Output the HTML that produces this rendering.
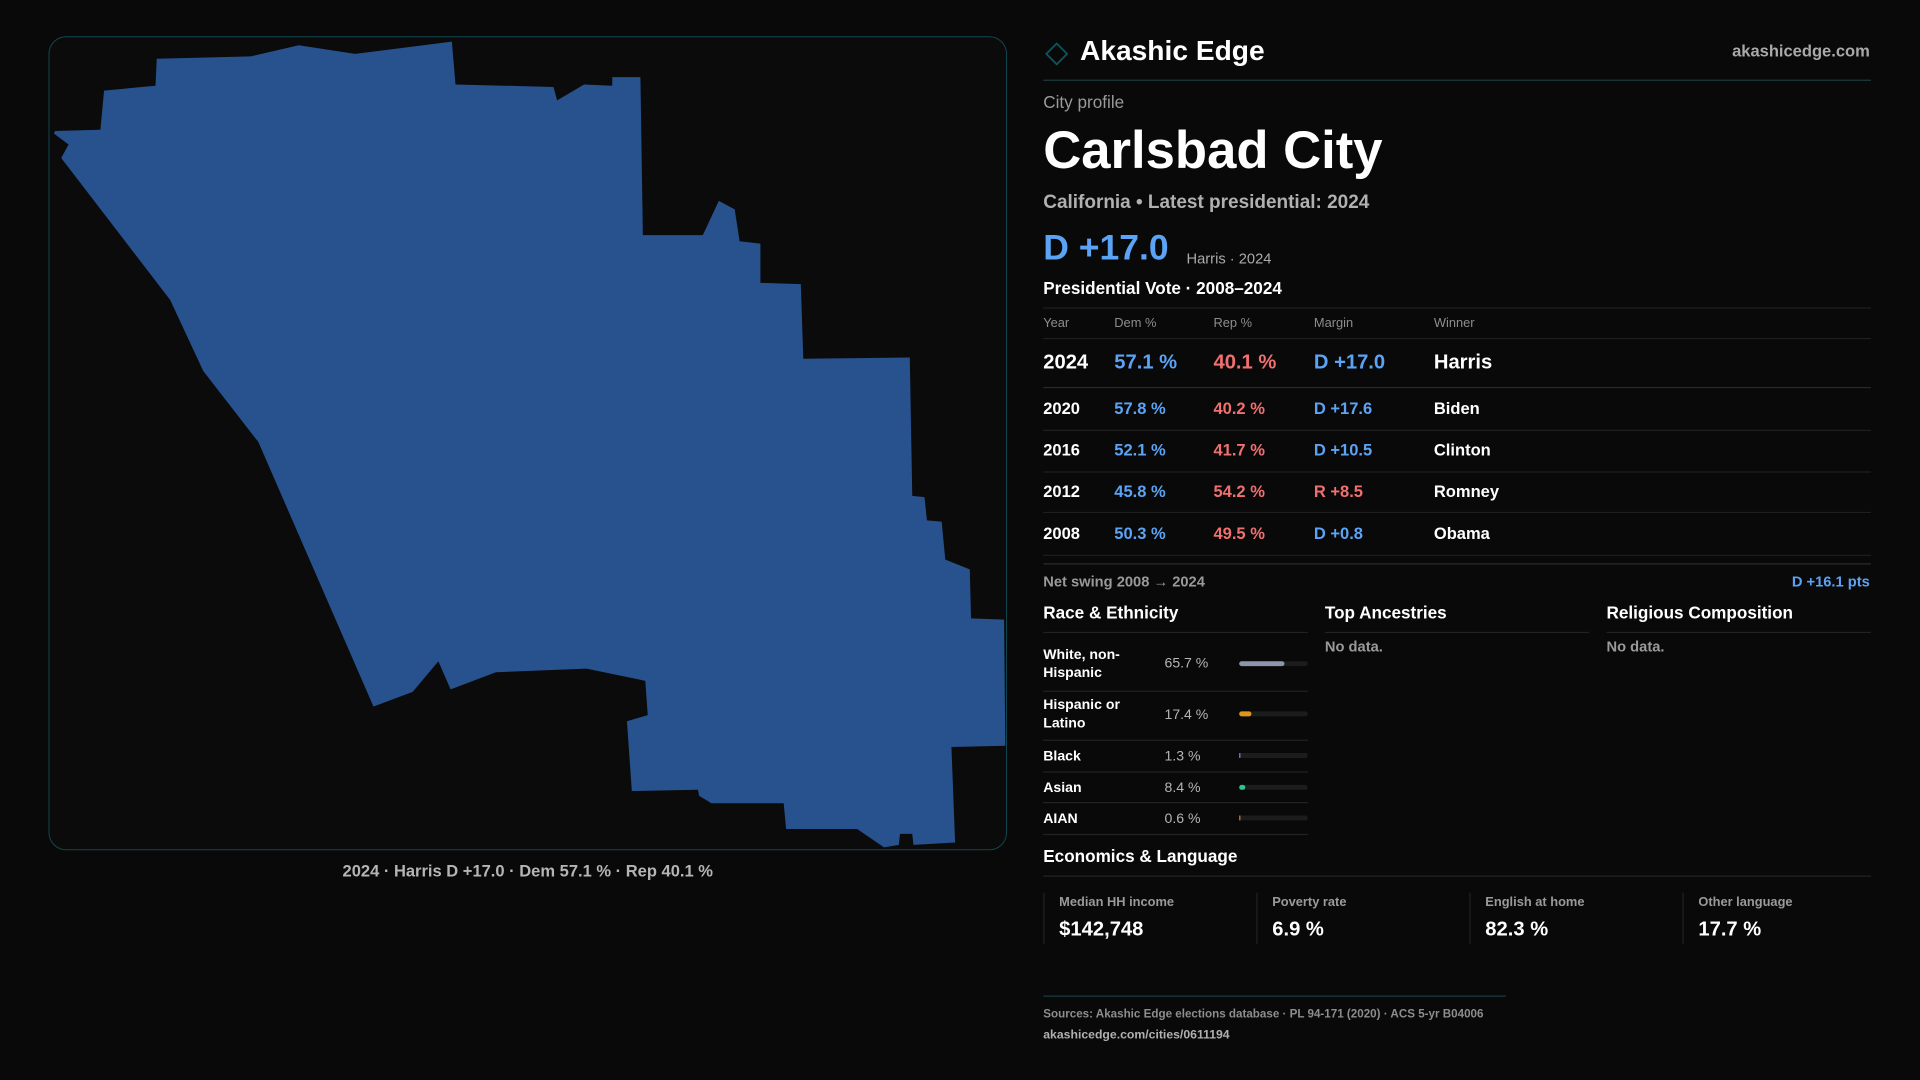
<!DOCTYPE html>
<html><head><meta charset="utf-8"><style>
html,body{margin:0;padding:0;background:#0a0909;}
svg{display:block;font-family:"Liberation Sans",sans-serif;}
</style></head><body>
<svg width="1920" height="1080" viewBox="0 0 1568 882" xmlns="http://www.w3.org/2000/svg">
<rect width="1568" height="882" fill="#0a0909"/>
<rect x="40" y="30" width="782" height="664" rx="14" fill="#0b0b0c" stroke="#11474f" stroke-width="0.8"/>
<polygon fill="#28528e" points="45,107 82,106 85,74 127,70 128,48 205,46 244,37 290,44 369,34 372,69 452,71 455,82 477,69 500,70 500,63 523,63 525,192 574,192 587,164 600,171 604,197 621,199 621,231 654,232 656,293 743,292 745,405 755,406 757,425 769,426 772,457 792,465 793,505 820,506 821,609 777,610 780,688 746,690 745,681 735,681 734,690 722,692 700,677 642,677 640,656 581,656 571,650 570,645 516,646 512,589 529,584 527,556 479,546 405,549 368,563 358,540 337,565 305,577 211,361 166,303 139,245 50,129 56,118 44,109"/>
<text x="431" y="716" text-anchor="middle" fill="#b5b5b5" font-size="13.5" font-weight="bold">2024 · Harris D +17.0 · Dem 57.1 % · Rep 40.1 %</text>

<rect x="857" y="38" width="12" height="12" transform="rotate(45 863 44)" fill="none" stroke="#11525a" stroke-width="1.5"/>
<text x="882" y="49" fill="#fff" font-size="23" font-weight="bold">Akashic Edge</text>
<text x="1527" y="46" text-anchor="end" fill="#a9a9a9" font-size="13.5" font-weight="bold">akashicedge.com</text>
<line x1="852" y1="65.5" x2="1528" y2="65.5" stroke="#1e3a3e" stroke-width="1"/>
<text x="852" y="88" fill="#9a9a9a" font-size="14">City profile</text>
<text x="852" y="137" fill="#fff" font-size="43" font-weight="bold">Carlsbad City</text>
<text x="852" y="170" fill="#b0b0b0" font-size="15.5" font-weight="bold">California • Latest presidential: 2024</text>
<text x="852" y="212" fill="#5ba3f5" font-size="29" font-weight="bold">D +17.0</text>
<text x="969" y="215" fill="#aaa" font-size="12">Harris · 2024</text>
<text x="852" y="240" fill="#fff" font-size="14" font-weight="bold">Presidential Vote · 2008–2024</text>
<g stroke="#1f1f1f" stroke-width="1">
<line x1="852" y1="251.5" x2="1528" y2="251.5"/>
<line x1="852" y1="276.5" x2="1528" y2="276.5"/>
<line x1="852" y1="316.5" x2="1528" y2="316.5" stroke="#2a2a2a"/>
<line x1="852" y1="351.5" x2="1528" y2="351.5"/>
<line x1="852" y1="385.5" x2="1528" y2="385.5"/>
<line x1="852" y1="418.5" x2="1528" y2="418.5"/>
<line x1="852" y1="453.5" x2="1528" y2="453.5"/>
<line x1="852" y1="460.5" x2="1528" y2="460.5" stroke="#2a2a2a"/>
</g>
<g font-size="10.5" fill="#8d8d8d">
<text x="852" y="267">Year</text><text x="910" y="267">Dem %</text><text x="991" y="267">Rep %</text><text x="1073" y="267">Margin</text><text x="1171" y="267">Winner</text>
</g>
<g font-size="16.5" font-weight="bold">
<text x="852" y="301" fill="#fff">2024</text><text x="910" y="301" fill="#5ba3f5">57.1 %</text><text x="991" y="301" fill="#f07070">40.1 %</text><text x="1073" y="301" fill="#5ba3f5">D +17.0</text><text x="1171" y="301" fill="#fff">Harris</text>
</g>
<g font-size="13.5" font-weight="bold">
<text x="852" y="338" fill="#fff">2020</text><text x="910" y="338" fill="#5ba3f5">57.8 %</text><text x="991" y="338" fill="#f07070">40.2 %</text><text x="1073" y="338" fill="#5ba3f5">D +17.6</text><text x="1171" y="338" fill="#fff">Biden</text>
<text x="852" y="372" fill="#fff">2016</text><text x="910" y="372" fill="#5ba3f5">52.1 %</text><text x="991" y="372" fill="#f07070">41.7 %</text><text x="1073" y="372" fill="#5ba3f5">D +10.5</text><text x="1171" y="372" fill="#fff">Clinton</text>
<text x="852" y="406" fill="#fff">2012</text><text x="910" y="406" fill="#5ba3f5">45.8 %</text><text x="991" y="406" fill="#f07070">54.2 %</text><text x="1073" y="406" fill="#f07070">R +8.5</text><text x="1171" y="406" fill="#fff">Romney</text>
<text x="852" y="440" fill="#fff">2008</text><text x="910" y="440" fill="#5ba3f5">50.3 %</text><text x="991" y="440" fill="#f07070">49.5 %</text><text x="1073" y="440" fill="#5ba3f5">D +0.8</text><text x="1171" y="440" fill="#fff">Obama</text>
</g>
<text x="852" y="479" fill="#9a9a9a" font-size="12" font-weight="bold">Net swing 2008 → 2024</text>
<text x="1527" y="479" text-anchor="end" fill="#5ba3f5" font-size="12" font-weight="bold">D +16.1 pts</text>

<g font-size="14" fill="#fff" font-weight="bold">
<text x="852" y="505">Race &amp; Ethnicity</text><text x="1082" y="505">Top Ancestries</text><text x="1312" y="505">Religious Composition</text>
</g>
<g stroke="#222" stroke-width="1">
<line x1="852" y1="516.5" x2="1068" y2="516.5"/><line x1="1082" y1="516.5" x2="1298" y2="516.5"/><line x1="1312" y1="516.5" x2="1528" y2="516.5"/>
<line x1="852" y1="564.5" x2="1068" y2="564.5"/><line x1="852" y1="604.5" x2="1068" y2="604.5"/><line x1="852" y1="630.5" x2="1068" y2="630.5"/><line x1="852" y1="655.5" x2="1068" y2="655.5"/><line x1="852" y1="681.5" x2="1068" y2="681.5"/>
<line x1="852" y1="715.5" x2="1528" y2="715.5"/>
</g>
<text x="1082" y="532" fill="#9a9a9a" font-size="12" font-weight="bold">No data.</text>
<text x="1312" y="532" fill="#9a9a9a" font-size="12" font-weight="bold">No data.</text>
<g font-size="11.5" fill="#fff" font-weight="bold">
<text x="852" y="538">White, non-</text><text x="852" y="553">Hispanic</text>
<text x="852" y="579">Hispanic or</text><text x="852" y="594">Latino</text>
<text x="852" y="621">Black</text><text x="852" y="647">Asian</text><text x="852" y="672">AIAN</text>
</g>
<g font-size="11.5" fill="#b5b5b5">
<text x="951" y="545">65.7 %</text><text x="951" y="587">17.4 %</text><text x="951" y="621">1.3 %</text><text x="951" y="647">8.4 %</text><text x="951" y="672">0.6 %</text>
</g>
<g fill="#1c1c1c">
<rect x="1012" y="540" width="56" height="4" rx="2"/><rect x="1012" y="581" width="56" height="4" rx="2"/><rect x="1012" y="615" width="56" height="4" rx="2"/><rect x="1012" y="641" width="56" height="4" rx="2"/><rect x="1012" y="666" width="56" height="4" rx="2"/>
</g>
<rect x="1012" y="540" width="37" height="4" rx="2" fill="#8a96aa"/>
<rect x="1012" y="581" width="10" height="4" rx="2" fill="#e0941a"/>
<rect x="1012" y="615" width="1" height="4" fill="#8a7ee0"/>
<rect x="1012" y="641" width="5" height="4" rx="2" fill="#2ec48e"/>
<rect x="1012" y="666" width="1" height="4" fill="#e07a1a"/>

<text x="852" y="704" fill="#fff" font-size="14" font-weight="bold">Economics &amp; Language</text>
<g stroke="#222"><line x1="852.5" y1="729" x2="852.5" y2="771"/><line x1="1026.5" y1="729" x2="1026.5" y2="771"/><line x1="1200.5" y1="729" x2="1200.5" y2="771"/><line x1="1374.5" y1="729" x2="1374.5" y2="771"/></g>
<g font-size="10.5" fill="#9a9a9a" font-weight="bold">
<text x="865" y="740">Median HH income</text><text x="1039" y="740">Poverty rate</text><text x="1213" y="740">English at home</text><text x="1387" y="740">Other language</text>
</g>
<g font-size="16.5" fill="#fff" font-weight="bold">
<text x="865" y="764">$142,748</text><text x="1039" y="764">6.9 %</text><text x="1213" y="764">82.3 %</text><text x="1387" y="764">17.7 %</text>
</g>
<line x1="852" y1="813.5" x2="1230" y2="813.5" stroke="#163c42"/>
<text x="852" y="831" fill="#8d8d8d" font-size="9.5" font-weight="bold">Sources: Akashic Edge elections database · PL 94-171 (2020) · ACS 5-yr B04006</text>
<text x="852" y="848" fill="#b0b0b0" font-size="10" font-weight="bold">akashicedge.com/cities/0611194</text>
</svg>
</body></html>
